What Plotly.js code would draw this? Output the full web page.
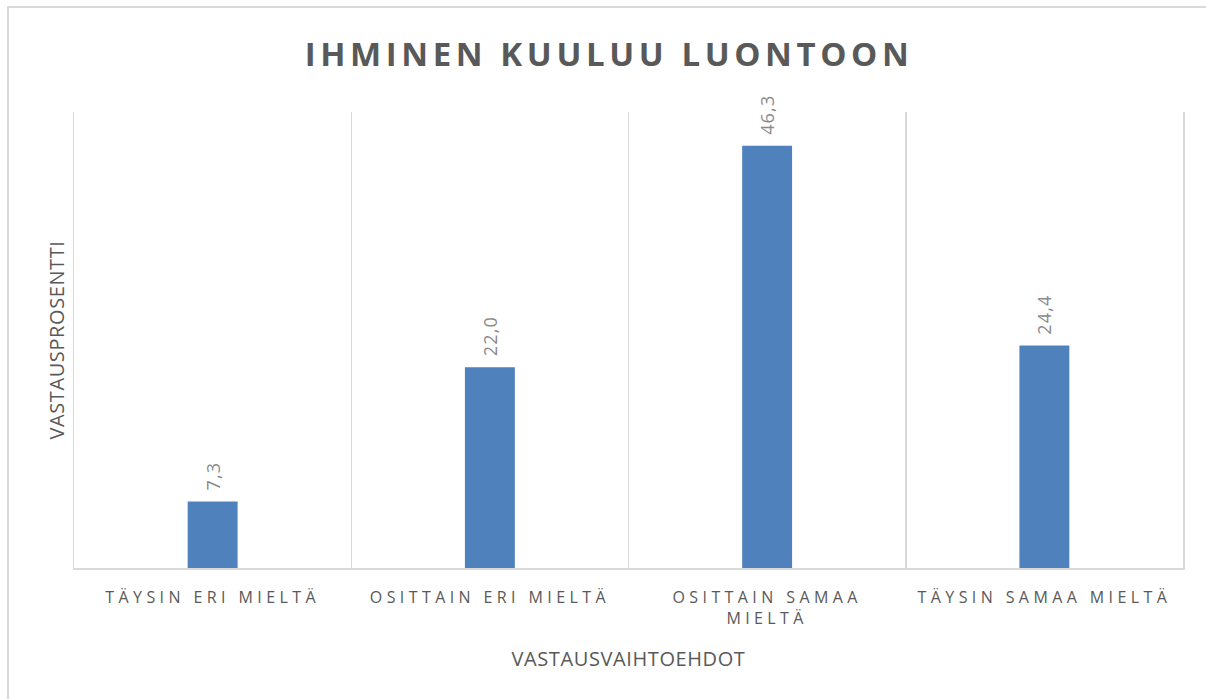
<!DOCTYPE html>
<html>
<head>
<meta charset="utf-8">
<script src="https://cdn.plot.ly/plotly-3.0.1.min.js"></script>
<style>
  html, body { margin: 0; padding: 0; background: #fff; }
  #wrap { position: relative; width: 1206px; height: 699px; }
  #chart { width: 1206px; height: 699px; }
  #frame { position: absolute; left: 7px; top: 6px; width: 1199px; height: 693px;
           border-left: 2px solid #d9d9d9; border-top: 2px solid #d9d9d9; pointer-events: none; }
  .gtitle { letter-spacing: 4.6px; }
  .xtick text { letter-spacing: 4.4px; }
  .xtitle, .ytitle { letter-spacing: 0.6px; }
  .annotation-text { letter-spacing: 1.2px; }
</style>
</head>
<body>
<div id="wrap"><div id="chart"></div><div id="frame"></div></div>
<script>
const categories = ["TÄYSIN ERI MIELTÄ", "OSITTAIN ERI MIELTÄ", "OSITTAIN SAMAA<br>MIELTÄ", "TÄYSIN SAMAA MIELTÄ"];
const values = [7.3, 22.0, 46.3, 24.4];
const labels = ["7,3", "22,0", "46,3", "24,4"];
const chartTitle = "IHMINEN KUULUU LUONTOON";
const xTitle = "VASTAUSVAIHTOEHDOT";
const yTitle = "VASTAUSPROSENTTI";

const trace = {
  type: "bar",
  x: categories,
  y: values,
  marker: { color: "#4f81bd" },
  width: 0.18,
  hoverinfo: "none"
};

const annotations = categories.map((c, i) => ({
  x: c, y: values[i], xref: "x", yref: "y",
  text: labels[i], showarrow: false,
  textangle: -90, yanchor: "bottom", xanchor: "center", yshift: 9,
  font: { family: "Open Sans, sans-serif", size: 18, color: "#8a8a8a" }
}));

const layout = {
  width: 1206, height: 699,
  margin: { l: 74, r: 23, t: 112, b: 131 },
  paper_bgcolor: "#fff", plot_bgcolor: "#fff",
  showlegend: false,
  font: { family: "Open Sans, sans-serif", color: "#595959" },
  title: {
    text: "<b>" + chartTitle + "</b>",
    font: { family: "Open Sans, sans-serif", size: 33, color: "#595959" },
    x: 0.505, xanchor: "center", y: 0.922, yanchor: "middle"
  },
  xaxis: {
    type: "category",
    tickson: "boundaries",
    showgrid: true, gridcolor: "#d9d9d9", gridwidth: 1.5,
    showline: true, linecolor: "#d9d9d9", linewidth: 2,
    ticks: "", ticklen: 0, ticklabelstandoff: 14,
    tickfont: { family: "Open Sans, sans-serif", size: 16, color: "#595959" },
    range: [-0.5, 3.5],
    title: { text: xTitle, font: { family: "Open Sans, sans-serif", size: 20, color: "#595959" }, standoff: 24 }
  },
  yaxis: {
    range: [0, 50],
    showticklabels: false, showgrid: false, zeroline: false,
    showline: true, mirror: true, linecolor: "#d9d9d9", linewidth: 1.5,
    ticks: "",
    title: { text: yTitle, font: { family: "Open Sans, sans-serif", size: 20, color: "#595959" }, standoff: 2 }
  },
  annotations: annotations,
  bargap: 0.82
};

Plotly.newPlot("chart", [trace], layout, { displayModeBar: false, staticPlot: true });
</script>
</body>
</html>
